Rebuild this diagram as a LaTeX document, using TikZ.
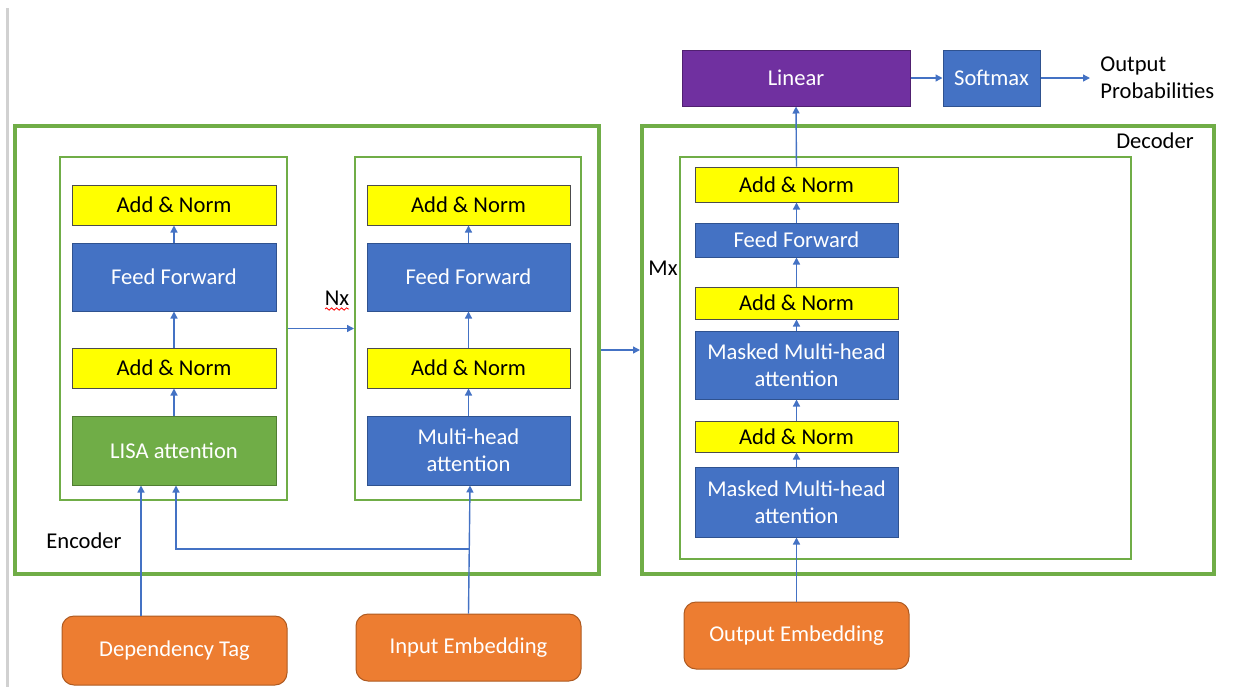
\documentclass[tikz,border=0pt]{standalone}
\usepackage{fontspec}
\setmainfont{Carlito}
\usetikzlibrary{arrows.meta,decorations.pathmorphing}
\definecolor{mblue}{HTML}{4472C4}
\definecolor{mblueD}{HTML}{2F528F}
\definecolor{mgreen}{HTML}{70AD47}
\definecolor{mgreenD}{HTML}{507E32}
\definecolor{morange}{HTML}{ED7D31}
\definecolor{morangeD}{HTML}{AE5A21}
\definecolor{mpurple}{HTML}{7030A0}
\definecolor{mpurpleD}{HTML}{502070}
\definecolor{myellow}{HTML}{FFFF00}
\tikzset{
  txt/.style={font=\fontsize{11.3}{13.5}\selectfont, align=center, inner sep=0pt},
  bluebox/.style={txt, draw=mblueD, line width=0.5pt, fill=mblue, text=white},
  yelbox/.style={txt, draw=black!70, line width=0.5pt, fill=myellow, text=black},
  lisabox/.style={txt, draw=mgreenD, line width=0.5pt, fill=mgreen, text=white},
  orbox/.style={txt, draw=morangeD, line width=0.5pt, fill=morange, text=white, rounded corners=6pt},
  purbox/.style={txt, draw=mpurpleD, line width=0.5pt, fill=mpurple, text=white},
  outerframe/.style={draw=mgreen, line width=2pt, inner sep=0pt},
  innerframe/.style={draw=mgreen, line width=1pt, inner sep=0pt},
  arr/.style={draw=mblue, line width=0.7pt, -{Triangle[length=3.5pt,width=3.5pt]}},
  plain/.style={txt, text=black}
}
\begin{document}
\begin{tikzpicture}[x=0.5pt,y=-0.5pt]
\useasboundingbox (0,0) rectangle (1233,687);
\fill[black!18] (6,8) rectangle (8.5,687);

% frames
\node[outerframe, minimum width=292pt, minimum height=224pt] (enc) at (307,350) {};
\node[outerframe, minimum width=286pt, minimum height=224pt] (dec) at (928,350) {};
\node[innerframe, minimum width=113.5pt, minimum height=171.5pt] (innerL) at (173.5,328.5) {};
\node[innerframe, minimum width=113pt, minimum height=171.5pt] (innerR) at (468,328.5) {};
\node[innerframe, minimum width=225.5pt, minimum height=201pt] (innerD) at (905.5,358) {};

% encoder left column
\node[yelbox, minimum width=102pt, minimum height=20pt] (an1) at (174,205) {Add \& Norm};
\node[bluebox, minimum width=102pt, minimum height=34pt] (ff1) at (174,277) {Feed Forward};
\node[yelbox, minimum width=102pt, minimum height=20pt] (an2) at (174,368) {Add \& Norm};
\node[lisabox, minimum width=102pt, minimum height=34.5pt] (lisa) at (174,450.5) {LISA attention};

% encoder right column
\node[yelbox, minimum width=101.5pt, minimum height=20pt] (an3) at (468.5,205) {Add \& Norm};
\node[bluebox, minimum width=101.5pt, minimum height=34pt] (ff2) at (468.5,277) {Feed Forward};
\node[yelbox, minimum width=101.5pt, minimum height=20pt] (an4) at (468.5,368) {Add \& Norm};
\node[bluebox, minimum width=101.5pt, minimum height=34.5pt] (mha) at (468.5,450.5) {Multi-head\\attention};

% decoder column
\node[yelbox, minimum width=101.5pt, minimum height=17.5pt] (dan1) at (796.5,184.5) {Add \& Norm};
\node[bluebox, minimum width=101.5pt, minimum height=17pt] (dff) at (796.5,240) {Feed Forward};
\node[yelbox, minimum width=101.5pt, minimum height=16pt] (dan2) at (796.5,303) {Add \& Norm};
\node[bluebox, minimum width=101.5pt, minimum height=34pt] (mmh1) at (796.5,365) {Masked Multi-head\\attention};
\node[yelbox, minimum width=101.5pt, minimum height=15.5pt] (dan3) at (796.5,436.5) {Add \& Norm};
\node[bluebox, minimum width=101.5pt, minimum height=35pt] (mmh2) at (796.5,502) {Masked Multi-head\\attention};

% top
\node[purbox, minimum width=114pt, minimum height=28pt] (lin) at (796,78) {Linear};
\node[bluebox, minimum width=48.5pt, minimum height=28pt] (soft) at (991.5,78) {Softmax};
\node[plain, align=left, anchor=west] (outp) at (1100,78) {Output\\Probabilities};
\coordinate (outend) at (1090,78);

% inputs
\node[orbox, minimum width=112.5pt, minimum height=34.5pt] (dep) at (174.5,650.5) {Dependency Tag};
\node[orbox, minimum width=112.5pt, minimum height=33.5pt] (inemb) at (468.5,647.5) {Input Embedding};
\node[orbox, minimum width=112.5pt, minimum height=33.5pt] (outemb) at (796.5,635.5) {Output Embedding};

% labels
\node[plain] (nx) at (337,298) {Nx};
\draw[red, line width=0.4pt, decoration={snake, amplitude=0.6pt, segment length=2.5pt}, decorate] (325,309) -- (349,309);
\node[plain] (encl) at (84,541) {Encoder};
\node[plain] (decl) at (1155,141) {Decoder};
\node[plain] (mxl) at (663,268) {Mx};

% arrows encoder
\draw[arr] (ff1.north) -- (an1.south);
\draw[arr] (an2.north) -- (ff1.south);
\draw[arr] (lisa.north) -- (an2.south);
\draw[arr] (ff2.north) -- (an3.south);
\draw[arr] (an4.north) -- (ff2.south);
\draw[arr] (mha.north) -- (an4.south);
\draw[arr] ([xshift=-16.75pt]dep.north) -- ([xshift=-16.5pt]lisa.south);
\draw[arr] (inemb.north) -- ([xshift=0.75pt]mha.south);
\coordinate (junc) at (470,549);
\draw[arr] (junc) -| ([xshift=1pt]lisa.south);
\draw[arr] (innerL.east) -- (innerR.west);
\draw[arr] (enc.east) -- (dec.west);

% arrows decoder
\draw[arr] (outemb.north) -- (mmh2.south);
\draw[arr] (mmh2.north) -- (dan3.south);
\draw[arr] (dan3.north) -- (mmh1.south);
\draw[arr] (mmh1.north) -- (dan2.south);
\draw[arr] (dan2.north) -- (dff.south);
\draw[arr] (dff.north) -- (dan1.south);
\draw[arr] (dan1.north) -- (lin.south);
\draw[arr] (lin.east) -- (soft.west);
\draw[arr] (soft.east) -- (outend);
\end{tikzpicture}
\end{document}
